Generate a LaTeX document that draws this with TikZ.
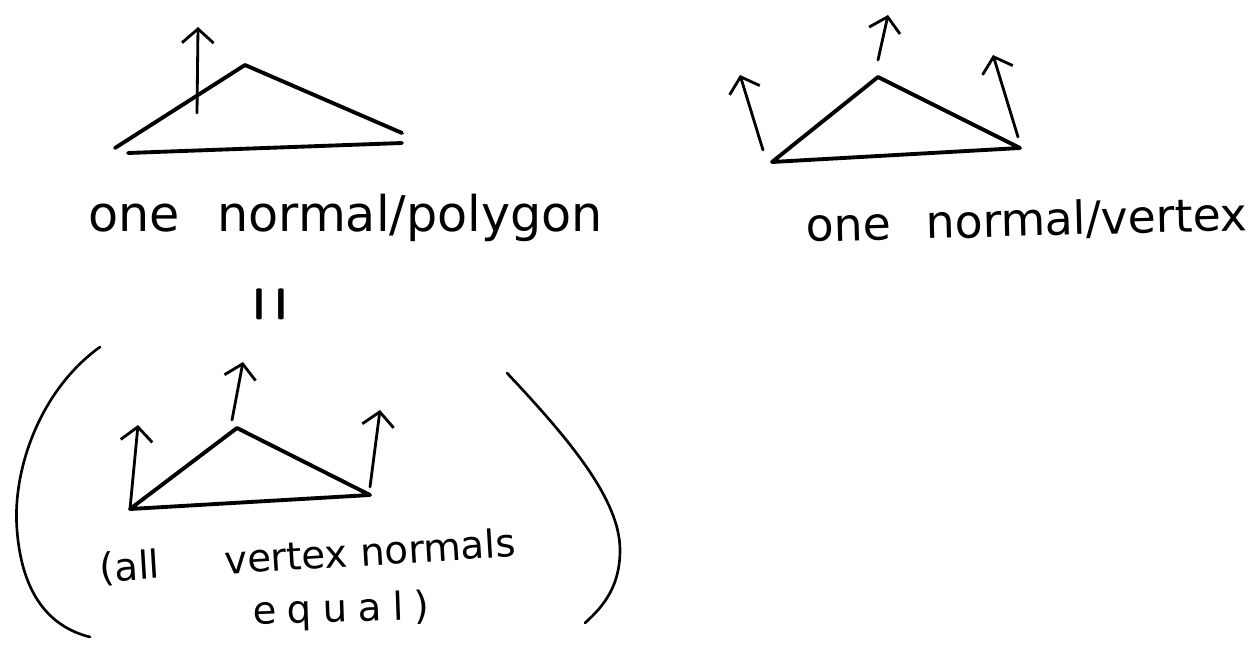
\documentclass[tikz,border=0pt]{standalone}
\usepackage{fontspec}
\usepackage{graphicx}
\setmainfont{DejaVu Sans}
\newfontfamily\spacedfont{DejaVu Sans}[LetterSpace=28]
\usetikzlibrary{arrows.meta}

\begin{document}
\begin{tikzpicture}[x=0.02cm,y=-0.02cm,>={Straight Barb[length=8pt,width=18pt]},
  polyedge/.style={line width=2.2pt,line cap=round,line join=round},
  normalvec/.style={->,line width=1.6pt,line cap=round},
  bracket/.style={line width=1.5pt,line cap=round},
  handtext/.style={inner sep=0pt,anchor=base west,font=\fontsize{27}{30}\selectfont}]
\useasboundingbox (0,0) rectangle (1257,645);

% one normal per polygon
\coordinate (fl) at (115,148); \coordinate (fa) at (245,65); \coordinate (fr) at (402,133);
\coordinate (fbl) at (128,153); \coordinate (fbr) at (402,143);
\coordinate (fn0) at (197,113); \coordinate (fn1) at (198,27);
\draw[polyedge] (fl) -- (fa) -- (fr);
\draw[polyedge] (fbl) -- (fbr);
\draw[normalvec] (fn0) -- (fn1);
\node[handtext,font=\fontsize{28}{30}\selectfont] (polylabel) at (88,232) {one\hspace{0.75cm}normal/polygon};

% one normal per vertex
\coordinate (vl) at (772,162); \coordinate (va) at (878,77); \coordinate (vr) at (1020,148);
\coordinate (vln) at (740,75); \coordinate (van) at (888,15); \coordinate (vrn) at (993,55);
\draw[polyedge] (vl) -- (va) -- (vr) -- cycle;
\draw[normalvec] (763,150) -- (vln);
\draw[normalvec] (878,60) -- (van);
\draw[normalvec] (1018,137) -- (vrn);
\node[handtext,font=\fontsize{26}{28}\selectfont,rotate=1.5] (vertlabel) at (806,242) {one\hspace{0.7cm}normal/vertex};

\node[inner sep=0pt] (eqsign) at (276,304) {\rotatebox{90}{\scalebox{0.95}[2.3]{\fontsize{34}{34}\selectfont\boldmath$=$}}};

% same thing with equal vertex normals
\coordinate (el) at (130,509); \coordinate (ea) at (237,428); \coordinate (er) at (370,495);
\coordinate (eln) at (138,425); \coordinate (ean) at (243,362); \coordinate (ern) at (380,410);
\draw[polyedge] (el) -- (ea) -- (er) -- cycle;
\draw[normalvec] (el) -- (eln);
\draw[normalvec] (232,420) -- (ean);
\draw[normalvec] (370,487) -- (ern);
\node[handtext,font=\fontsize{22}{24}\selectfont,rotate=3.5] (alllabel) at (100,582) {(all\hspace{1.3cm}vertex normals};
\node[handtext,font=\spacedfont\fontsize{22}{24}\selectfont,rotate=2] (equallabel) at (253,625) {equal)};

\draw[bracket] (100,347) .. controls (40,390) and (12,470) .. (17,530) .. controls (22,595) and (50,627) .. (90,637);
\draw[bracket] (507,373) .. controls (570,440) and (620,500) .. (620,550) .. controls (620,585) and (605,605) .. (585,623);
\end{tikzpicture}
\end{document}
